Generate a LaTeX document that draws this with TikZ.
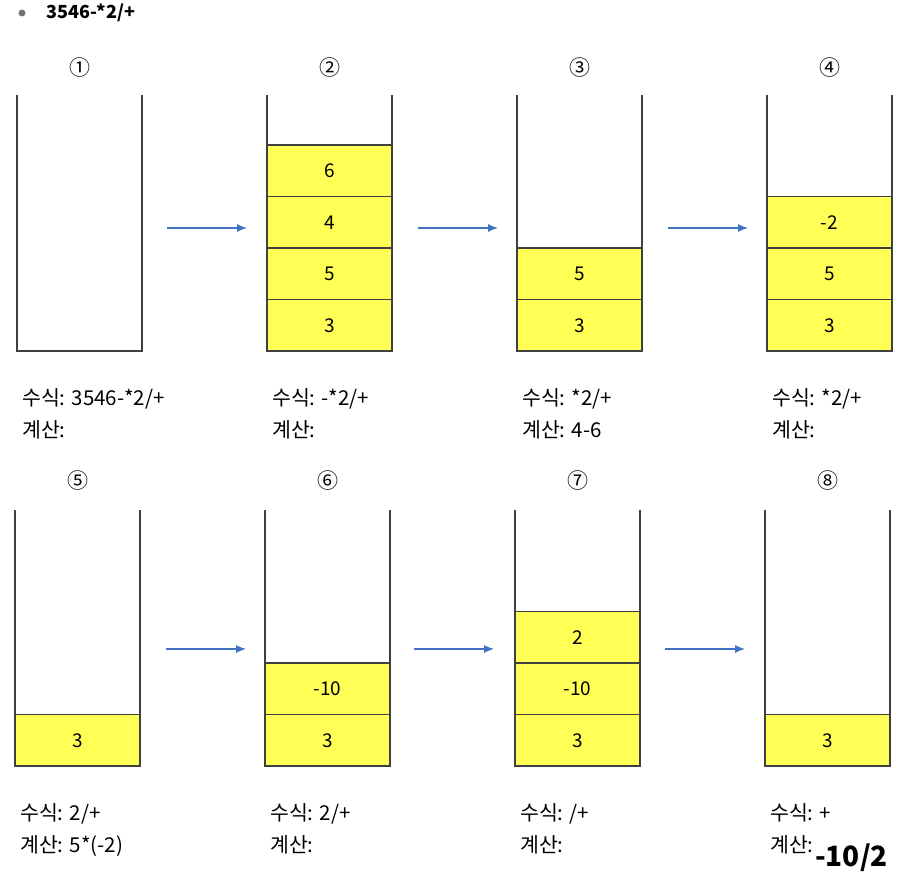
\documentclass[tikz,border=0pt]{standalone}
\usepackage{fontspec}
\setmainfont{Noto Sans CJK KR}
\usetikzlibrary{positioning,arrows.meta}
\definecolor{cellyellow}{HTML}{FFFF55}
\definecolor{arrowblue}{HTML}{4472C4}

\begin{document}
\begin{tikzpicture}[
    x=1pt, y=-1pt,
    stack/.style={minimum width=125pt, minimum height=256pt, inner sep=0pt, outer sep=0pt},
    wall/.style={draw=black!75, line width=1.1pt},
    cell/.style={draw=black!75, line width=1.1pt, fill=cellyellow, minimum width=125pt, minimum height=51.5pt, inner sep=0pt, outer sep=0pt, font=\fontsize{19}{22}\selectfont},
    flow/.style={draw=arrowblue, line width=1.1pt, -{Latex[length=10pt,width=8pt]}},
    stepnum/.style={font=\fontsize{21}{24}\selectfont},
    info/.style={anchor=base west, inner sep=0pt, font=\fontsize{20.5}{24}\selectfont}
]
    \useasboundingbox (0,0) rectangle (905,875);

    % title
    \node[circle, fill=black!55, minimum size=7pt, inner sep=0pt] (dot) at (22,13) {};
    \node[anchor=west, inner sep=0pt, font=\fontsize{18}{21}\selectfont\bfseries] (title) at (46,13) {3546-*2/+};

    % first row
    \node[stepnum] (n1) at (79.5,68) {①};
    \node[stepnum] (n2) at (329.5,68) {②};
    \node[stepnum] (n3) at (579.5,68) {③};
    \node[stepnum] (n4) at (829.5,68) {④};

    \node[stack] (st1) at (79.5,223) {};
    \node[stack] (st2) at (329.5,223) {};
    \node[stack] (st3) at (579.5,223) {};
    \node[stack] (st4) at (829.5,223) {};

    \node[cell, above=0pt of st2.south] (c2a) {3};
    \node[cell, above=0pt of c2a] (c2b) {5};
    \node[cell, above=0pt of c2b] (c2c) {4};
    \node[cell, above=0pt of c2c] (c2d) {6};

    \node[cell, above=0pt of st3.south] (c3a) {3};
    \node[cell, above=0pt of c3a] (c3b) {5};

    \node[cell, above=0pt of st4.south] (c4a) {3};
    \node[cell, above=0pt of c4a] (c4b) {5};
    \node[cell, above=0pt of c4b] (c4c) {-2};

    \draw[flow] ([xshift=25pt,yshift=-5pt]st1.east) -- ([xshift=-20pt,yshift=-5pt]st2.west);
    \draw[flow] ([xshift=26pt,yshift=-5pt]st2.east) -- ([xshift=-19pt,yshift=-5pt]st3.west);
    \draw[flow] ([xshift=26pt,yshift=-5pt]st3.east) -- ([xshift=-19pt,yshift=-5pt]st4.west);

    \node[info] (f1) at (22,405) {수식: 3546-*2/+};
    \node[info] (k1) at (22,437) {계산:};
    \node[info] (f2) at (272,405) {수식: -*2/+};
    \node[info] (k2) at (272,437) {계산:};
    \node[info] (f3) at (522,405) {수식: *2/+};
    \node[info] (k3) at (522,437) {계산: 4-6};
    \node[info] (f4) at (772,405) {수식: *2/+};
    \node[info] (k4) at (772,437) {계산:};

    % second row
    \node[stepnum] (n5) at (77.5,481) {⑤};
    \node[stepnum] (n6) at (327.5,481) {⑥};
    \node[stepnum] (n7) at (577.5,481) {⑦};
    \node[stepnum] (n8) at (827.5,481) {⑧};

    \node[stack] (st5) at (77.5,638) {};
    \node[stack] (st6) at (327.5,638) {};
    \node[stack] (st7) at (577.5,638) {};
    \node[stack] (st8) at (827.5,638) {};

    \node[cell, above=0pt of st5.south] (c5a) {3};

    \node[cell, above=0pt of st6.south] (c6a) {3};
    \node[cell, above=0pt of c6a] (c6b) {-10};

    \node[cell, above=0pt of st7.south] (c7a) {3};
    \node[cell, above=0pt of c7a] (c7b) {-10};
    \node[cell, above=0pt of c7b] (c7c) {2};

    \node[cell, above=0pt of st8.south] (c8a) {3};

    \draw[flow] ([xshift=26pt,yshift=-11pt]st5.east) -- ([xshift=-19pt,yshift=-11pt]st6.west);
    \draw[flow] ([xshift=24pt,yshift=-11pt]st6.east) -- ([xshift=-21pt,yshift=-11pt]st7.west);
    \draw[flow] ([xshift=25pt,yshift=-11pt]st7.east) -- ([xshift=-20pt,yshift=-11pt]st8.west);

    \node[info] (f5) at (20,820) {수식: 2/+};
    \node[info] (k5) at (20,852) {계산: 5*(-2)};
    \node[info] (f6) at (270,820) {수식: 2/+};
    \node[info] (k6) at (270,852) {계산:};
    \node[info] (f7) at (520,820) {수식: /+};
    \node[info] (k7) at (520,852) {계산:};
    \node[info] (f8) at (770,820) {수식: +};
    \node[info] (k8) at (770,852) {계산:};
    \node[anchor=west, inner sep=0pt, font=\fontsize{28}{30}\selectfont\bfseries] (memo) at (815,858) {-10/2};

    % open stacks
    \foreach \s in {st1,st2,st3,st4,st5,st6,st7,st8}
        \draw[wall] (\s.north west) -- (\s.south west) -- (\s.south east) -- (\s.north east);
\end{tikzpicture}
\end{document}
